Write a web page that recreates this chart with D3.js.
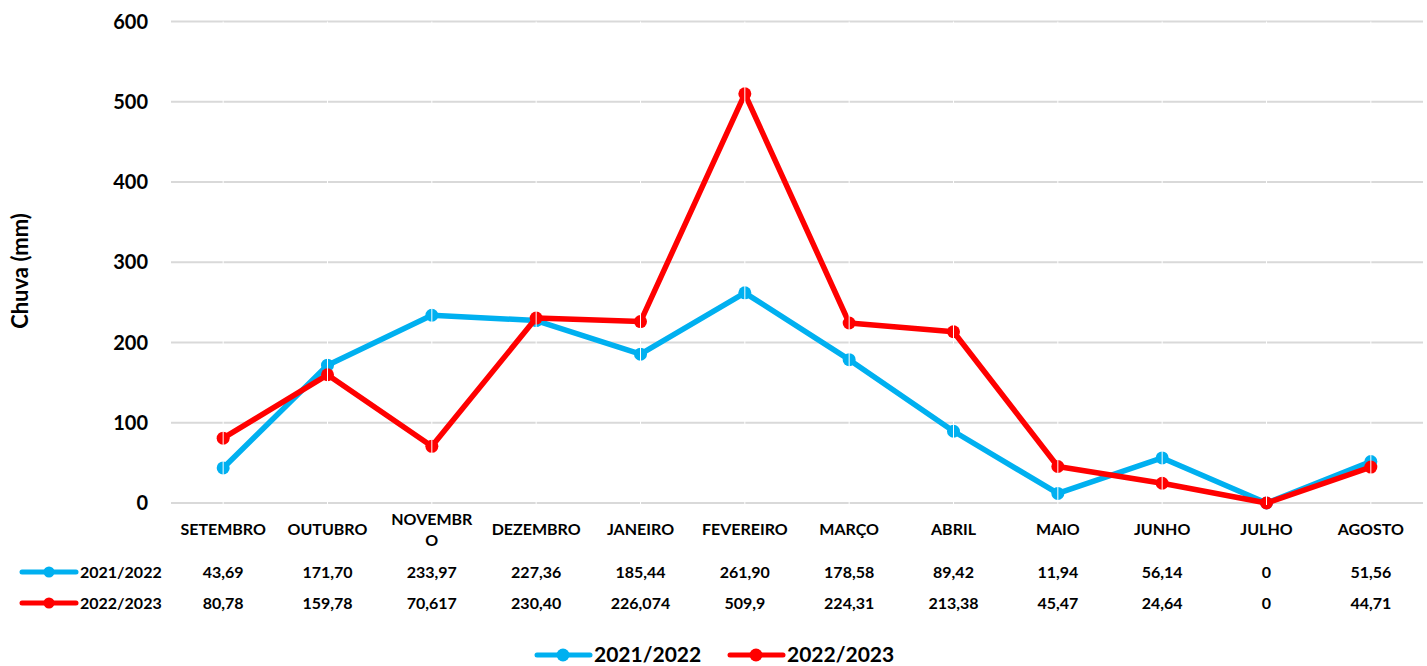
<!DOCTYPE html>
<html>
<head>
<meta charset="utf-8">
<style>
  body { margin: 0; background: #fff; }
  text { font-family: Lato, "Noto Sans", sans-serif; font-weight: bold; fill: #000; }
</style>
</head>
<body>
<div id="chart"></div>
<script src="https://d3js.org/d3.v7.min.js"></script>
<script>
var months = ["SETEMBRO", "OUTUBRO", "NOVEMBRO", "DEZEMBRO", "JANEIRO", "FEVEREIRO",
              "MARÇO", "ABRIL", "MAIO", "JUNHO", "JULHO", "AGOSTO"];
var serie1 = [43.69, 171.70, 233.97, 227.36, 185.44, 261.90, 178.58, 89.42, 11.94, 56.14, 0, 51.56];
var serie2 = [80.78, 159.78, 70.617, 230.40, 226.074, 509.9, 224.31, 213.38, 45.47, 24.64, 0, 44.71];
var labels1 = ["43,69", "171,70", "233,97", "227,36", "185,44", "261,90", "178,58", "89,42", "11,94", "56,14", "0", "51,56"];
var labels2 = ["80,78", "159,78", "70,617", "230,40", "226,074", "509,9", "224,31", "213,38", "45,47", "24,64", "0", "44,71"];
var yTicks = [0, 100, 200, 300, 400, 500, 600];

var series = [
  { name: "2021/2022", color: "#00B0F0", values: serie1, labels: labels1 },
  { name: "2022/2023", color: "#FF0000", values: serie2, labels: labels2 }
];

var width = 1427, height = 666;
var plotLeft = 171, plotRight = 1423, plotTop = 21.5, plotBottom = 503;

var svg = d3.select("#chart").append("svg")
  .attr("width", width).attr("height", height);

var x = d3.scaleBand().domain(months).range([plotLeft, plotRight]);
var y = d3.scaleLinear().domain([0, 600]).range([plotBottom, plotTop]);
var cx = function(m) { return x(m) + x.bandwidth() / 2; };

// horizontal gridlines
svg.append("g").selectAll("line").data(yTicks).enter().append("line")
  .attr("x1", plotLeft).attr("x2", plotRight)
  .attr("y1", function(d) { return y(d); }).attr("y2", function(d) { return y(d); })
  .attr("stroke", "#d9d9d9").attr("stroke-width", 2);

// y tick labels
svg.append("g").selectAll("text").data(yTicks).enter().append("text")
  .attr("x", 148).attr("y", function(d) { return y(d); })
  .attr("dy", "0.35em").attr("text-anchor", "end")
  .style("font-size", "20px")
  .text(function(d) { return d; });

// y axis title
svg.append("text")
  .attr("transform", "translate(28," + 271 + ") rotate(-90)")
  .attr("text-anchor", "middle")
  .style("font-size", "22px")
  .text("Chuva (mm)");

var line = d3.line()
  .x(function(d, i) { return cx(months[i]); })
  .y(function(d) { return y(d); });

series.forEach(function(s) {
  svg.append("path").datum(s.values)
    .attr("d", line)
    .attr("fill", "none")
    .attr("stroke", s.color)
    .attr("stroke-width", 5.5)
    .attr("stroke-linejoin", "round");
  svg.append("g").selectAll("circle").data(s.values).enter().append("circle")
    .attr("cx", function(d, i) { return cx(months[i]); })
    .attr("cy", function(d) { return y(d); })
    .attr("r", 6.5)
    .attr("fill", s.color);
});

// thin white vertical lines at category centers
svg.append("g").selectAll("line").data(months).enter().append("line")
  .attr("x1", cx).attr("x2", cx)
  .attr("y1", plotTop).attr("y2", plotBottom + 2)
  .attr("stroke", "#fff").attr("stroke-width", 1);

// table: month names
var monthG = svg.append("g");
months.forEach(function(m) {
  var t = monthG.append("text")
    .attr("x", cx(m)).attr("text-anchor", "middle")
    .style("font-size", "16px");
  if (m === "NOVEMBRO") {
    t.append("tspan").attr("x", cx(m)).attr("y", 525).text("NOVEMBR");
    t.append("tspan").attr("x", cx(m)).attr("y", 546).text("O");
  } else {
    t.attr("y", 535).text(m);
  }
});

// table rows
var rowY = [572, 603];
series.forEach(function(s, k) {
  var g = svg.append("g");
  g.append("line")
    .attr("x1", 22).attr("x2", 76)
    .attr("y1", rowY[k]).attr("y2", rowY[k])
    .attr("stroke", s.color).attr("stroke-width", 5).attr("stroke-linecap", "round");
  g.append("circle").attr("cx", 49).attr("cy", rowY[k]).attr("r", 5.5).attr("fill", s.color);
  g.append("text").attr("x", 80).attr("y", rowY[k]).attr("dy", "0.35em")
    .style("font-size", "16px").text(s.name);
  g.selectAll("text.v").data(s.labels).enter().append("text")
    .attr("class", "v")
    .attr("x", function(d, i) { return cx(months[i]); })
    .attr("y", rowY[k]).attr("dy", "0.35em")
    .attr("text-anchor", "middle")
    .style("font-size", "16px")
    .text(function(d) { return d; });
});

// bottom legend
var legX = [535, 728];
series.forEach(function(s, k) {
  var g = svg.append("g").attr("transform", "translate(" + legX[k] + ",655)");
  g.append("line").attr("x1", 2).attr("x2", 55).attr("y1", 0).attr("y2", 0)
    .attr("stroke", s.color).attr("stroke-width", 5).attr("stroke-linecap", "round");
  g.append("circle").attr("cx", 28).attr("cy", 0).attr("r", 6.5).attr("fill", s.color);
  g.append("text").attr("x", 59).attr("y", 0).attr("dy", "0.35em")
    .style("font-size", "21px").text(s.name);
});
</script>
</body>
</html>
